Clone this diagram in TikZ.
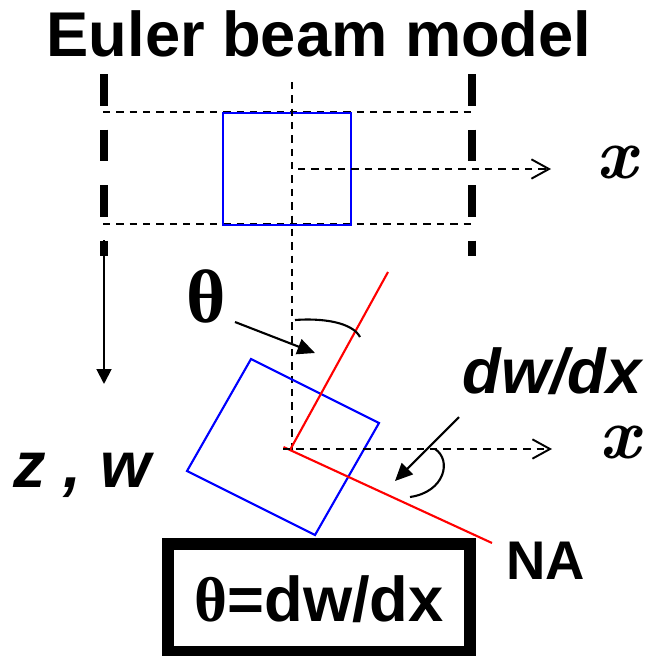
\documentclass[tikz,border=0pt]{standalone}
\usepackage{fontspec}
\setmainfont{Liberation Sans}
\newfontfamily\timesfont{Liberation Serif}
\newfontfamily\lmbifont{Latin Modern Roman}
\usetikzlibrary{arrows.meta}
\definecolor{beamblue}{HTML}{0000FF}
\definecolor{beamred}{HTML}{FF0000}

\begin{document}
\begin{tikzpicture}[
  x=0.02cm,y=-0.02cm,
  lbl/.style={inner sep=0pt,anchor=base},
  sanslbl/.style={lbl,font=\bfseries\fontsize{#1}{#1}\selectfont},
  xlbl/.style={lbl,font=\fontsize{41}{41}\selectfont\lmbifont\bfseries\itshape},
  wall/.style={line width=4.5pt,dash pattern=on 18pt off 13.6pt},
  guide/.style={line width=1.1pt,dash pattern=on 4.2pt off 3.4pt},
  axis/.style={guide,-{Straight Barb[length=10pt,width=11pt,line width=1.1pt]}},
  sect/.style={draw=beamblue,line width=1.2pt},
  na/.style={draw=beamred,line width=1.2pt},
  pointer/.style={line width=1.2pt,-{Triangle[length=10pt,width=9pt]}},
  anglearc/.style={line width=1.2pt}
]
\useasboundingbox (0,0) rectangle (647,656);

% title
\node[sanslbl=36] (title) at (319,56) {Euler beam model};

% undeformed beam
\coordinate (lwtop) at (104,74);
\coordinate (lwbot) at (104,256);
\coordinate (rwtop) at (472,74);
\coordinate (rwbot) at (472,256);
\draw[wall] (lwtop) -- (lwbot);
\draw[wall] (rwtop) -- (rwbot);
\draw[guide] (103,112) -- (473,112);
\draw[guide] (103,224) -- (473,224);
\draw[sect] (223,113) rectangle (351,225);
\coordinate (pivot) at (290,450);
\draw[guide] (292,82) -- (292,450);
\coordinate (xtop0) at (298,169);
\coordinate (xtop1) at (551,169);
\draw[axis] (xtop0) -- (xtop1);
\node[xlbl] (xtop) at (617,178) {x};

% z axis
\coordinate (z0) at (104,240);
\coordinate (z1) at (104,384);
\draw[line width=1.1pt,-{Triangle[length=8.5pt,width=8.5pt]}] (z0) -- (z1);
\node[lbl,font=\bfseries\itshape\fontsize{37}{37}\selectfont] (zw) at (82,487) {z , w};

% deformed section
\draw[sect] (251,359) -- (379,423) -- (315,535) -- (187,471) -- cycle;
\coordinate (natop) at (388,272);
\coordinate (naback) at (283.5,447);
\coordinate (naend) at (492,543);
\draw[na] (natop) -- (pivot);
\draw[na] (naback) -- (naend);
\coordinate (xbot0) at (283,449);
\coordinate (xbot1) at (552,449);
\draw[axis] (xbot0) -- (xbot1);
\node[xlbl] (xbot) at (620,458) {x};
\node[sanslbl=31] (nalbl) at (546,579) {NA};

% rotation theta
\node[lbl,font=\timesfont\bfseries\fontsize{43}{43}\selectfont] (theta) at (206,322) {θ};
\coordinate (th0) at (235,322);
\coordinate (th1) at (315,353);
\draw[pointer] (th0) -- (th1);
\draw[anglearc] (295,320) .. controls (322,318) and (352,322) .. (360,337);

% slope dw/dx
\node[lbl,font=\bfseries\itshape\fontsize{36}{36}\selectfont] (slope) at (552,393) {dw/dx};
\coordinate (sl0) at (459,417);
\coordinate (sl1) at (395,481);
\draw[pointer] (sl0) -- (sl1);
\draw[anglearc] (435,449) .. controls (452,460) and (445,492) .. (410,497);

% result
\draw[line width=6.8pt] (168,544) rectangle (470,652);
\node[sanslbl=36] (result) at (319,621) {{\timesfont\bfseries θ}=dw/dx};
\end{tikzpicture}
\end{document}
